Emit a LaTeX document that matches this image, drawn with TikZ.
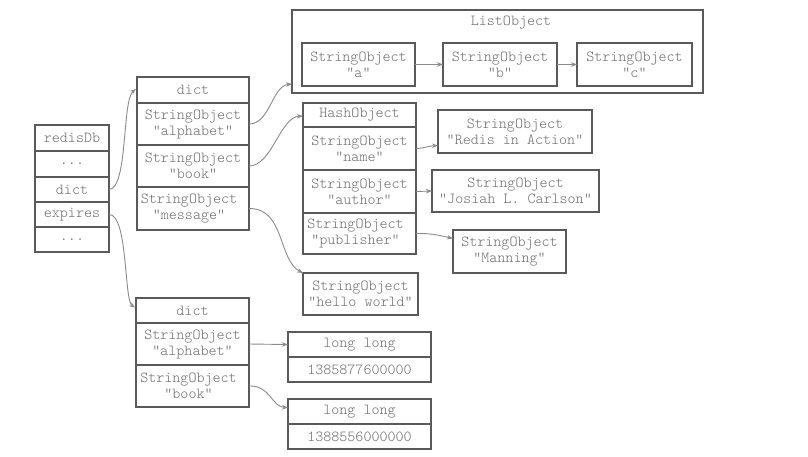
\documentclass[tikz,border=0pt]{standalone}
\usepackage{fontspec}
\setmonofont{Latin Modern Mono Light}
\usetikzlibrary{arrows.meta,calc}
\definecolor{bordc}{HTML}{5A5A5A}
\definecolor{txtc}{HTML}{6E6E6E}
\definecolor{linec}{HTML}{8A8A8A}
\tikzset{
  cell/.style={draw=bordc, line width=1.8pt, text=txtc,
    font=\fontsize{15.3}{16}\selectfont\ttfamily, align=center,
    inner sep=0pt, outer sep=0pt},
  sz/.style 2 args={minimum width=#1pt, minimum height=#2pt},
  ttl/.style={text=txtc, font=\fontsize{15.3}{16}\selectfont\ttfamily, inner sep=0pt},
  conn/.style={draw=linec, line width=0.9pt, -{Stealth[length=6pt,width=4.5pt]}},
}
\begin{document}
\begin{tikzpicture}[x=1pt,y=-1pt]
\useasboundingbox[fill=white] (0,0) rectangle (808,456);
% redisDb
\node[cell, sz={74}{26}] (db1) at (72,138) {redisDb};
\node[cell, sz={74}{26}] (db2) at (72,164) {...};
\node[cell, sz={74}{25}] (db3) at (72,189.5) {dict};
\node[cell, sz={74}{25}] (db4) at (72,214.5) {expires};
\node[cell, sz={74}{25}] (db5) at (72,239.5) {...};
% top dict
\node[cell, sz={112}{26}] (d1h) at (193,90) {dict};
\node[cell, sz={112}{42}] (d1a) at (193,124) {StringObject\\"alphabet"};
\node[cell, sz={112}{42}] (d1b) at (193,166) {StringObject\\"book"};
\node[cell, sz={112}{43}] (d1m) at (193,208.5) {StringObject\hspace*{8pt}\\"message"\hspace*{8pt}};
% list object
\node[cell, sz={411}{83}] (list) at (497.5,51.5) {};
\node[ttl] (listt) at (511,23) {ListObject};
\node[cell, sz={113}{43}] (la) at (358.5,64.5) {StringObject\\"a"};
\node[cell, sz={114}{43}] (lb) at (500,64.5) {StringObject\\"b"};
\node[cell, sz={115}{43}] (lc) at (634.5,64.5) {StringObject\\"c"};
% hash object
\node[cell, sz={113}{24}] (hh) at (359.5,115) {HashObject};
\node[cell, sz={113}{43}] (hn) at (359.5,148.5) {StringObject\\"name"};
\node[cell, sz={113}{43}] (ha) at (359.5,191.5) {StringObject\\"author"};
\node[cell, sz={113}{41}] (hp) at (359.5,233.5) {StringObject\hspace*{8pt}\\"publisher"\hspace*{8pt}};
\node[cell, sz={154}{43}] (redis) at (515,131.5) {StringObject\\"Redis in Action"};
\node[cell, sz={167}{42}] (josiah) at (515.5,191) {StringObject\\"Josiah L. Carlson"};
\node[cell, sz={113}{43}] (manning) at (509.5,251.5) {StringObject\\"Manning"};
\node[cell, sz={115}{42}] (hello) at (360.5,294) {StringObject\\"hello world"};
% bottom dict
\node[cell, sz={113}{25}] (d2h) at (192.5,310.5) {dict};
\node[cell, sz={113}{42}] (d2a) at (192.5,344) {StringObject\\"alphabet"};
\node[cell, sz={113}{42}] (d2b) at (192.5,386) {StringObject\hspace*{8pt}\\"book"\hspace*{8pt}};
% long long
\node[cell, sz={143}{25}] (l1h) at (359.5,344.5) {long long};
\node[cell, sz={143}{25}] (l1v) at (359.5,369.5) {1385877600000};
\node[cell, sz={143}{25}] (l2h) at (359.5,411.5) {long long};
\node[cell, sz={143}{25}] (l2v) at (359.5,436.5) {1388556000000};
% connectors
\coordinate (listin) at ($(list.south west)+(0,-9)$);
\coordinate (hashin) at ($(hh.west)+(0,1)$);
\coordinate (redisin) at ($(redis.west)+(0,14)$);
\coordinate (manin) at ($(manning.west)+(0,-13)$);
\coordinate (l2in) at ($(l2h.west)+(0,-4)$);
\draw[conn] (db3.east) .. controls (128,189) and (122,100) .. ($(d1h.west)+(-1,-1)$);
\draw[conn] (db4.east) .. controls (128,214) and (124,300) .. ($(d2h.west)+(-1,-3)$);
\draw[conn] (d1a.east) .. controls (270,124) and (272,86) .. (listin);
\draw[conn] (d1b.east) .. controls (272,166) and (280,117) .. (hashin);
\draw[conn] (d1m.east) .. controls (285,208) and (278,260) .. (hello.north west);
\draw[conn] (la.east) -- (lb.west);
\draw[conn] (lb.east) -- (lc.west);
\draw[conn] (hn.east) .. controls (426,148) and (428,146) .. (redisin);
\draw[conn] (ha.east) -- (josiah.west);
\draw[conn] (hp.east) .. controls (432,233) and (442,236) .. (manin);
\draw[conn] (d2a.east) -- (l1h.west);
\draw[conn] (d2b.east) .. controls (270,385) and (272,407) .. (l2in);
\end{tikzpicture}
\end{document}
